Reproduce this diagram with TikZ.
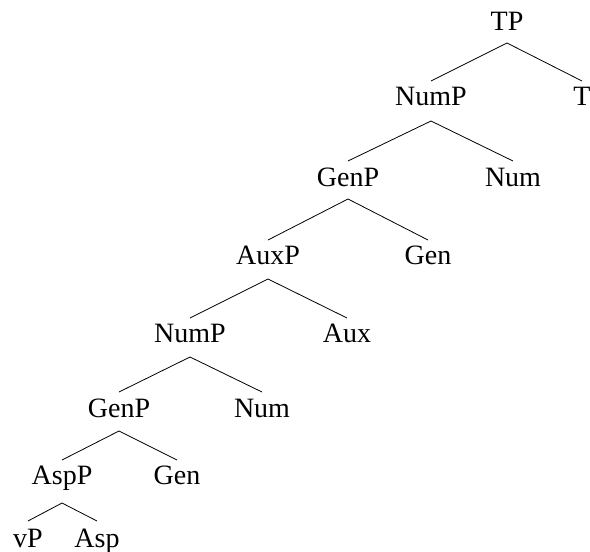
\documentclass[tikz,border=0pt]{standalone}
\usepackage{fontspec}
\setmainfont{Liberation Serif}
\begin{document}
\begin{tikzpicture}[x=1pt,y=-1pt,
  lab/.style={anchor=base,inner sep=0pt,font=\fontsize{28}{32}\selectfont},
  edge/.style={line width=0.8pt}]
\useasboundingbox (0,0) rectangle (590,552);
\node[lab] (tp) at (507,30) {TP};
\node[lab] (nump1) at (431,105) {NumP};
\node[lab] (t) at (582,105) {T};
\node[lab] (genp1) at (348,186) {GenP};
\node[lab] (num1) at (513,186) {Num};
\node[lab] (auxp) at (268,264) {AuxP};
\node[lab] (gen1) at (428,264) {Gen};
\node[lab] (nump2) at (190,342) {NumP};
\node[lab] (aux) at (347,342) {Aux};
\node[lab] (genp2) at (119,417) {GenP};
\node[lab] (num2) at (262,417) {Num};
\node[lab] (aspp) at (62,484) {AspP};
\node[lab] (gen2) at (177,484) {Gen};
\node[lab] (vp) at (28,547) {vP};
\node[lab] (asp) at (97,547) {Asp};
\draw[edge] ([yshift=-13pt]tp.base) -- ([yshift=24pt]nump1.base);
\draw[edge] ([yshift=-13pt]tp.base) -- ([yshift=24pt]t.base);
\draw[edge] ([yshift=-16pt]nump1.base) -- ([yshift=25pt]genp1.base);
\draw[edge] ([yshift=-16pt]nump1.base) -- ([yshift=25pt]num1.base);
\draw[edge] ([yshift=-13pt]genp1.base) -- ([yshift=24pt]auxp.base);
\draw[edge] ([yshift=-13pt]genp1.base) -- ([yshift=24pt]gen1.base);
\draw[edge] ([yshift=-15pt]auxp.base) -- ([yshift=24pt]nump2.base);
\draw[edge] ([yshift=-15pt]auxp.base) -- ([yshift=24pt]aux.base);
\draw[edge] ([yshift=-15pt]nump2.base) -- ([yshift=25pt]genp2.base);
\draw[edge] ([yshift=-15pt]nump2.base) -- ([yshift=25pt]num2.base);
\draw[edge] ([yshift=-14pt]genp2.base) -- ([yshift=24pt]aspp.base);
\draw[edge] ([yshift=-14pt]genp2.base) -- ([yshift=24pt]gen2.base);
\draw[edge] ([yshift=-19pt]aspp.base) -- ([yshift=26pt]vp.base);
\draw[edge] ([yshift=-19pt]aspp.base) -- ([yshift=26pt]asp.base);
\end{tikzpicture}
\end{document}
